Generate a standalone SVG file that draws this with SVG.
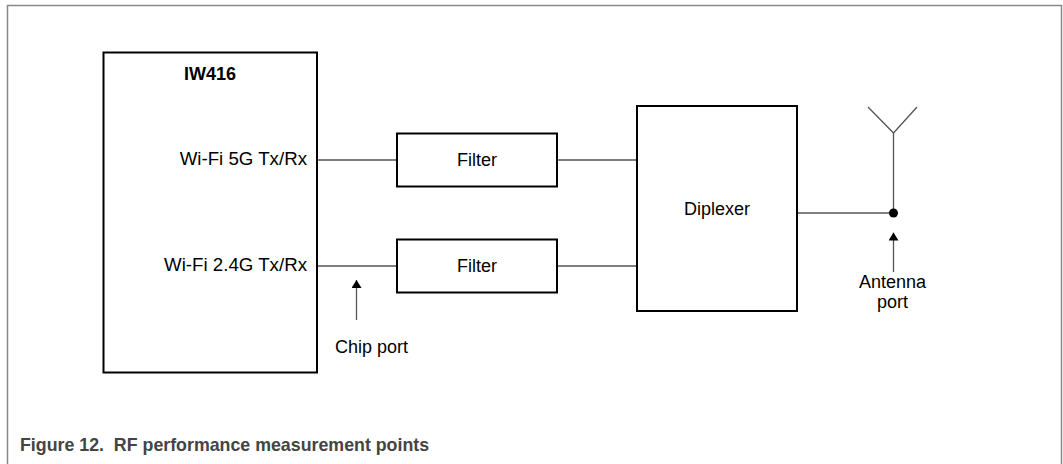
<svg xmlns="http://www.w3.org/2000/svg" width="1063" height="464" viewBox="0 0 1063 464">
<defs>
<style>
.box{fill:#fff;stroke:#000;stroke-width:2}
.wire{fill:none;stroke:#555;stroke-width:1.3}
.t{font-family:"Liberation Sans",Arial,sans-serif;font-size:18px;fill:#000}
.w{font-size:18.7px}
.b{font-weight:bold}
.cap{font-family:"Liberation Sans",Arial,sans-serif;font-size:17.8px;font-weight:bold;fill:#444}
</style>
<marker id="ah" markerWidth="8" markerHeight="10" refX="8" refY="5" orient="auto" markerUnits="userSpaceOnUse" viewBox="0 0 8 10">
<path d="M0,0 L8,5 L0,10 z" fill="#000"/>
</marker>
</defs>
<rect width="1063" height="464" fill="#fff"/>
<path d="M7.5,464 V5.5 H1061.5 V464" fill="none" stroke="#888" stroke-width="1.5"/>
<g id="connectors">
<line class="wire" x1="317" y1="160" x2="397" y2="160"/>
<line class="wire" x1="317" y1="266" x2="397" y2="266"/>
<line class="wire" x1="557" y1="160" x2="637" y2="160"/>
<line class="wire" x1="557" y1="266" x2="637" y2="266"/>
<line class="wire" x1="797" y1="213" x2="893.5" y2="213"/>
<line class="wire" x1="893.5" y1="213" x2="893.5" y2="133"/>
<polyline class="wire" points="868,107 893.5,133 917,107" stroke="#000" stroke-width="1.2"/>
<line class="wire" x1="356.5" y1="320" x2="356.5" y2="280" marker-end="url(#ah)"/>
<line class="wire" x1="893.5" y1="272" x2="893.5" y2="232.5" marker-end="url(#ah)"/>
</g>
<g id="iw416">
<rect class="box" x="103.5" y="52.5" width="213.5" height="320"/>
<text class="t b" x="210" y="80" text-anchor="middle">IW416</text>
<text class="t w" x="307" y="164.5" text-anchor="end">Wi-Fi 5G Tx/Rx</text>
<text class="t w" x="307" y="271" text-anchor="end">Wi-Fi 2.4G Tx/Rx</text>
</g>
<g id="filter1">
<rect class="box" x="397" y="133.5" width="160" height="53"/>
<text class="t" x="477" y="166" text-anchor="middle">Filter</text>
</g>
<g id="filter2">
<rect class="box" x="397" y="239.5" width="160" height="53"/>
<text class="t" x="477" y="272" text-anchor="middle">Filter</text>
</g>
<g id="diplexer">
<rect class="box" x="637" y="106" width="160" height="205"/>
<text class="t" x="717" y="215" text-anchor="middle">Diplexer</text>
</g>
<g id="antenna-port">
<circle cx="893.5" cy="213" r="4.5" fill="#000"/>
<text class="t" x="892.5" y="288" text-anchor="middle">Antenna</text>
<text class="t" x="892.5" y="308" text-anchor="middle">port</text>
</g>
<g id="chip-port">
<text class="t" x="335" y="353">Chip port</text>
</g>
<text class="cap" x="20" y="450.5" xml:space="preserve">Figure 12.  RF performance measurement points</text>
</svg>
